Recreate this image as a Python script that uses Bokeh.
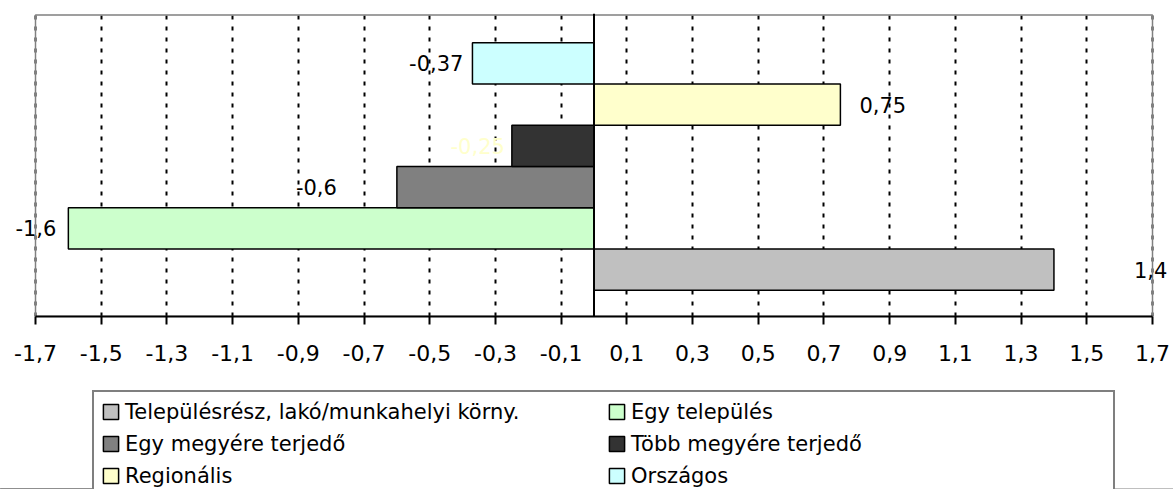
from bokeh.plotting import figure
from bokeh.layouts import column
from bokeh.models import FixedTicker, Span, Label, Legend, LegendItem
from bokeh.embed import file_html
from bokeh.resources import INLINE

# ---- data ----
series = ["Településrész, lakó/munkahelyi körny.", "Egy település", "Egy megyére terjedő",
          "Több megyére terjedő", "Regionális", "Országos"]
values = [1.4, -1.6, -0.6, -0.25, 0.75, -0.37]
value_labels = ["1,4", "-1,6", "-0,6", "-0,25", "0,75", "-0,37"]
tick_values = [-1.7, -1.5, -1.3, -1.1, -0.9, -0.7, -0.5, -0.3, -0.1,
               0.1, 0.3, 0.5, 0.7, 0.9, 1.1, 1.3, 1.5, 1.7]
tick_labels = ["-1,7", "-1,5", "-1,3", "-1,1", "-0,9", "-0,7", "-0,5", "-0,3", "-0,1",
               "0,1", "0,3", "0,5", "0,7", "0,9", "1,1", "1,3", "1,5", "1,7"]

# ---- styles / layout ----
colors = ["#C0C0C0", "#CCFFCC", "#808080", "#333333", "#FFFFCC", "#CCFFFF"]
label_colors = ["black", "black", "black", "#FFFFCC", "black", "black"]
label_gaps = [80, 12, 60, 7, 19, 9]
FONT = "DejaVu Sans"

W = 1173
H1, H2 = 389, 100
XMIN, XMAX = tick_values[0], tick_values[-1]
PLOT_L, PLOT_R = 35, 1152           # pixel extent of the plot area
FRAME_TOP, FRAME_BOTTOM = 13, 316
PX = (PLOT_R - PLOT_L) / (XMAX - XMIN)
x_start = XMIN - PLOT_L / PX
x_end = XMAX + (W - PLOT_R) / PX
UNIT = 41.5                          # px per category band
y_start = -0.5 - 26.5 / UNIT
y_end = len(series) - 0.5 + 29.3 / UNIT
y_border = y_end - 1.5 / UNIT

p = figure(width=W, height=H1, output_backend="svg", toolbar_location=None,
           x_range=(x_start, x_end), y_range=(y_start, y_end),
           min_border_left=0, min_border_right=0, min_border_top=FRAME_TOP,
           min_border_bottom=H1 - FRAME_BOTTOM,
           y_axis_location=None, background_fill_color="white", border_fill_color="white")
p.outline_line_color = None

# plot-area border
p.quad(left=[XMIN], right=[XMAX], bottom=[y_start], top=[y_border],
       fill_color=None, line_color="#808080", line_width=1.5)

for i, (v, c) in enumerate(zip(values, colors)):
    p.hbar(y=[i], left=[0], right=[v], height=1.0, fill_color=c,
           line_color="black", line_width=1.5)

# axis
xa = p.xaxis[0]
xa.bounds = (XMIN, XMAX)
xa.ticker = FixedTicker(ticks=tick_values)
xa.major_label_overrides = dict(zip(tick_values, tick_labels))
xa.axis_line_width = 2
xa.axis_line_color = "black"
xa.major_tick_line_width = 2
xa.major_tick_out = 8
xa.major_tick_in = 0
xa.minor_tick_line_color = None
xa.major_label_text_font = FONT
xa.major_label_text_font_size = "22px"
xa.major_label_text_color = "black"
xa.major_label_standoff = 20

p.xgrid.grid_line_color = "black"
p.xgrid.grid_line_dash = "4 7"
p.xgrid.grid_line_width = 2
p.xgrid.bounds = (XMIN, XMAX)
p.ygrid.grid_line_color = None

p.add_layout(Span(location=0, dimension="height", line_color="black", line_width=2))

for i, (v, t, c, g) in enumerate(zip(values, value_labels, label_colors, label_gaps)):
    neg = v < 0
    p.add_layout(Label(x=v, y=i, text=t, x_offset=(-g if neg else g),
                       text_align=("right" if neg else "left"), text_baseline="middle",
                       text_font=FONT, text_font_size="21px", text_color=c))

# ---- legend strip (second figure; swatch bars lie outside its visible range) ----
q = figure(width=W, height=H2, output_backend="svg", toolbar_location=None,
           x_range=(0, 1), y_range=(0, 1), min_border=0,
           x_axis_location=None, y_axis_location=None,
           background_fill_color="white", border_fill_color="white")
q.outline_line_color = None
q.grid.grid_line_color = None
swatches = [q.hbar(y=[-10], left=[0], right=[v], height=1.0, fill_color=c,
                   line_color="black", line_width=1.5) for v, c in zip(values, colors)]
items = [LegendItem(label=s, renderers=[r]) for s, r in zip(series, swatches)]
legend = Legend(items=items, location=(92, -8), orientation="horizontal", ncols=2,
                margin=0, padding=7, spacing=7, glyph_width=19, glyph_height=19,
                label_height=25, label_width=475, label_standoff=5,
                label_text_font=FONT, label_text_font_size="21px", label_text_color="black",
                border_line_color="black", border_line_width=2,
                background_fill_color="white", background_fill_alpha=1.0)
q.add_layout(legend, "center")

layout = column(p, q, spacing=0)
open("out.html", "w").write(file_html(layout, INLINE))
